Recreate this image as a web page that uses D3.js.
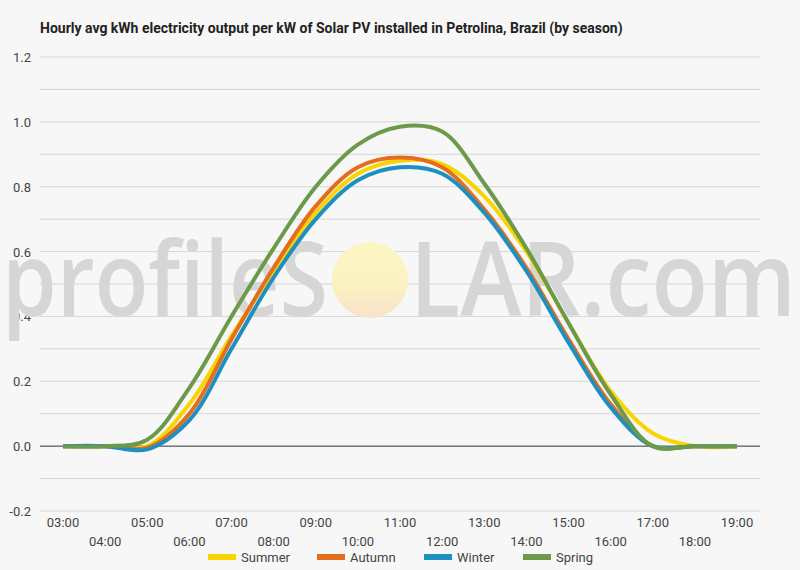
<!DOCTYPE html><html><head><script src="https://cdn.jsdelivr.net/npm/d3@7"></script>
<style>body{margin:0;background:#fff}</style></head><body><svg id="c" width="800" height="570"></svg><script>
const hours=[3,4,5,6,7,8,9,10,11,12,13,14,15,16,17,18,19];
const tickLabels=["03:00","04:00","05:00","06:00","07:00","08:00","09:00","10:00","11:00","12:00","13:00","14:00","15:00","16:00","17:00","18:00","19:00"];
const summer=[0,0,0,0.13,0.34,0.54,0.72,0.84,0.88,0.87,0.77,0.60,0.38,0.17,0.04,0,0];
const autumn=[0,0,-0.005,0.10,0.33,0.55,0.74,0.86,0.89,0.86,0.73,0.55,0.33,0.13,0.0,0,0];
const winter=[0,0,-0.01,0.08,0.30,0.52,0.70,0.82,0.86,0.84,0.72,0.54,0.32,0.12,0.0,0,0];
const spring=[0,0,0.02,0.18,0.40,0.61,0.80,0.93,0.985,0.97,0.81,0.61,0.38,0.16,0.0,0,0];
const series=[["Summer",summer,"#f9d400"],["Autumn",autumn,"#e46d1e"],["Winter",winter,"#1e90c0"],["Spring",spring,"#6a9a4a"]];
const svg=d3.select("#c");
const defs=svg.append("defs");
const gr=defs.append("linearGradient").attr("id","sun").attr("x1",0).attr("y1",0).attr("x2",0).attr("y2",1);
gr.append("stop").attr("offset","0").attr("stop-color","#fbf6c4");
gr.append("stop").attr("offset","0.6").attr("stop-color","#fbf1c0");
gr.append("stop").attr("offset","1").attr("stop-color","#f8e2cc");
svg.append("rect").attr("width",800).attr("height",570).attr("fill","#f7f7f7");
const x=d3.scaleLinear().domain([3,19]).range([63,737]);
const y=d3.scaleLinear().domain([-0.2,1.2]).range([511,57]);
const g=svg.append("g");
d3.range(-2,13).forEach(i=>{const v=i/10;g.append("line").attr("x1",40).attr("x2",760).attr("y1",y(v)).attr("y2",y(v)).attr("stroke",v===0?"#333":"#d6d6d6").attr("stroke-width",1);});
const wm=svg.append("g");
wm.append("circle").attr("cx",370).attr("cy",280).attr("r",38).attr("fill","url(#sun)");
wm.append("text").attr("x",2).attr("y",316).attr("font-family","Open Sans").attr("font-weight",600).attr("font-size",104).attr("fill","#d6d6d6").attr("textLength",326).attr("lengthAdjust","spacingAndGlyphs").text("profileS");
wm.append("text").attr("x",410).attr("y",316).attr("font-family","Open Sans").attr("font-weight",600).attr("font-size",104).attr("fill","#d6d6d6").attr("textLength",386).attr("lengthAdjust","spacingAndGlyphs").text("LAR.com");
[-0.2,0,0.2,0.4,0.6,0.8,1.0,1.2].forEach(v=>g.append("text").attr("x",31).attr("y",y(v)+5).attr("text-anchor","end").attr("font-family","Roboto").attr("font-size",13).attr("fill","#444").text(v.toFixed(1)));
tickLabels.forEach((t,i)=>g.append("text").attr("x",x(hours[i])).attr("y",i%2===0?527:546).attr("text-anchor","middle").attr("font-family","Roboto").attr("font-size",13).attr("fill","#444").text(t));
const line=d3.line().x((d,i)=>x(hours[i])).y(d=>y(d)).curve(d3.curveCatmullRom.alpha(0.5));
series.forEach(s=>svg.append("path").attr("d",line(s[1])).attr("fill","none").attr("stroke",s[2]).attr("stroke-width",4));
svg.append("text").attr("x",40).attr("y",33).attr("font-family","Roboto").attr("font-weight","bold").attr("font-size",14).attr("fill","#222").text("Hourly avg kWh electricity output per kW of Solar PV installed in Petrolina, Brazil (by season)");
const lx=[208,317,424,523];
series.forEach((s,i)=>{svg.append("rect").attr("x",lx[i]).attr("y",554).attr("width",28).attr("height",6).attr("fill",s[2]);
svg.append("text").attr("x",lx[i]+33).attr("y",562).attr("font-family","Roboto").attr("font-size",13).attr("fill","#444").text(s[0]);});
</script></body></html>
